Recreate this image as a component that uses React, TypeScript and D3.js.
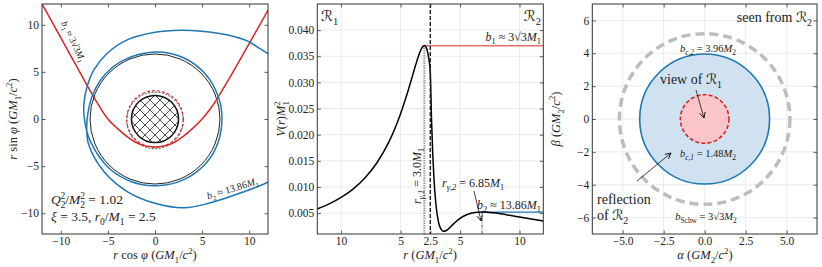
import React, { useEffect, useRef } from "react";
import * as d3 from "d3";

const width = 822;
const height = 267;
const serif = "'Liberation Serif', 'DejaVu Serif', serif";
const scriptFont = "'DejaVu Sans', 'DejaVu Serif', serif";
const ink = "#222";
const blue = "#1f77b4";
const red = "#d62728";

// --- left panel: ray paths in the equatorial plane ---
const orbitTicks = [-10, -5, 0, 5, 10];
const throatR = 2.5;
const photonR1 = 3.0;
const photonR2 = 6.9;
// b1 ray, [x, y]
const redRay: [number, number][] = [
  [-13, 13.9], [-12, 12.2], [-10, 8.6], [-8, 5.0], [-7, 3.2], [-6, 1.5], [-5, 0.0],
  [-4, -1.0], [-3, -1.85], [-2, -2.5], [-1, -2.85], [0, -2.97], [1, -2.85], [2, -2.5],
  [3, -1.85], [4, -1.0], [5, 0.0], [6, 1.25], [7, 2.8], [8, 4.5], [10, 8.0], [12.2, 11.9], [13, 13.3],
];
// b2 ray, [phi in degrees, r]
const blueRay: [number, number][] = [
  [26, 14.6], [29, 14.0], [34, 13.4], [40, 12.85], [49, 11.8], [62, 10.55], [74, 9.8], [90, 9.2],
  [109, 8.9], [126, 8.62], [141, 8.33], [155, 7.98], [168, 7.72], [177, 7.55], [188, 7.38],
  [200, 7.25], [226, 7.15], [249, 7.1], [271, 7.08], [295, 7.12], [320, 7.16], [341, 7.14],
  [364, 7.12], [380, 7.13], [401, 7.17], [425, 7.17], [450, 7.1], [478, 7.08], [498, 7.1],
  [518, 7.1], [535, 7.15], [548, 7.32], [561, 7.55], [586, 7.78], [609, 8.24], [630, 8.94],
  [648, 9.9], [662, 10.58], [680, 12.1], [692, 13.93], [697, 14.6],
];

// --- middle panel: effective potential ---
const r0 = 2.5;
const rRegion1 = [12, 11, 10, 9, 8, 7, 6, 5.5, 5, 4.5, 4, 3.75, 3.5, 3.25, 3, 2.85, 2.7, 2.6, 2.5];
const vRegion1 = [
  0.00579, 0.00676, 0.008, 0.0096, 0.01172, 0.01458, 0.01852, 0.02104, 0.024, 0.02744,
  0.03125, 0.03319, 0.03499, 0.03641, 0.03704, 0.03672, 0.03556, 0.03414, 0.032,
];
const rRegion2 = [
  2.5, 2.6, 2.7, 2.8, 2.9, 3.0, 3.2, 3.4, 3.6, 3.8, 4.0, 4.5, 5, 5.5, 6, 6.5, 6.85, 7, 7.5, 8, 9, 10, 11, 12,
];
const vRegion2 = [
  0.03187, 0.02309, 0.01665, 0.01196, 0.00855, 0.00611, 0.00319, 0.00191, 0.00152, 0.00161,
  0.00193, 0.00303, 0.00399, 0.00464, 0.00501, 0.00518, 0.00521, 0.0052, 0.00513, 0.005,
  0.00465, 0.00425, 0.00386, 0.0035,
];
const potTicksX = [
  { r: 10, side: -1 }, { r: 5, side: -1 }, { r: 2.5, side: 0 }, { r: 5, side: 1 }, { r: 10, side: 1 },
];
const potTicksY = [0.005, 0.01, 0.015, 0.02, 0.025, 0.03, 0.035, 0.04];
const rGamma1 = 3.0;
const rGamma2 = 6.85;
const vPeak1 = 0.037;
const vPeak2 = 0.0052;

// --- right panel: shadow seen from region 2 ---
const shadowTicksX = [-5, -2.5, 0, 2.5, 5];
const shadowTicksY = [-6, -4, -2, 0, 2, 4, 6];
const bc2 = 3.96;
const bc1 = 1.48;
const bSchw = 5.196;

type Part = [string, string?];

function mathText(g: any, x: number, y: number, parts: Part[], size: number, anchor = "start", rotate = 0) {
  const t = g
    .append("text")
    .attr("transform", `translate(${x},${y}) rotate(${rotate})`)
    .attr("font-size", size)
    .attr("font-family", serif)
    .attr("text-anchor", anchor)
    .attr("fill", ink);
  let cur = 0;
  for (const [s, st = ""] of parts) {
    const tags = st.split(" ");
    const sub = tags.includes("sub");
    const sup = tags.includes("sup");
    const target = sub ? size * 0.28 : sup ? -size * 0.4 : 0;
    const ts = t.append("tspan").attr("dy", target - cur).text(s);
    if (tags.includes("i")) ts.attr("font-style", "italic");
    if (sub || sup) ts.attr("font-size", size * 0.7);
    if (tags.includes("back")) ts.attr("dx", -size * 0.36);
    if (tags.includes("R")) ts.attr("font-family", scriptFont);
    cur = target;
  }
  return t;
}

function frame(svg: any, x: any, y: any, xt: number[], yt: number[], fmtX: any, fmtY: any, grid: boolean) {
  const [x0, x1] = x.range();
  const [y0, y1] = y.range();
  const g = svg.append("g");
  if (grid) {
    g.selectAll(".gx").data(xt).join("line")
      .attr("x1", (d: number) => x(d)).attr("x2", (d: number) => x(d))
      .attr("y1", y0).attr("y2", y1).attr("stroke", "#e6e6e6").attr("stroke-width", 0.8);
    g.selectAll(".gy").data(yt).join("line")
      .attr("y1", (d: number) => y(d)).attr("y2", (d: number) => y(d))
      .attr("x1", x0).attr("x2", x1).attr("stroke", "#e6e6e6").attr("stroke-width", 0.8);
  }
  const style = (a: any) => {
    a.select(".domain").remove();
    a.selectAll(".tick line").attr("stroke", "#333").attr("stroke-width", 0.8);
    a.selectAll("text").attr("font-family", serif).attr("font-size", 11.5).attr("fill", ink);
  };
  svg.append("g").attr("transform", `translate(0,${y0})`)
    .call(d3.axisBottom(x).tickValues(xt).tickSize(-3.5).tickPadding(3).tickFormat(fmtX)).call(style);
  svg.append("g").attr("transform", `translate(0,${y1})`)
    .call(d3.axisTop(x).tickValues(xt).tickSize(-3.5).tickFormat(() => "")).call(style);
  svg.append("g").attr("transform", `translate(${x0},0)`)
    .call(d3.axisLeft(y).tickValues(yt).tickSize(-3.5).tickPadding(3).tickFormat(fmtY)).call(style);
  svg.append("g").attr("transform", `translate(${x1},0)`)
    .call(d3.axisRight(y).tickValues(yt).tickSize(-3.5).tickFormat(() => "")).call(style);
}

function border(svg: any, x: any, y: any) {
  const [x0, x1] = x.range();
  const [y0, y1] = y.range();
  svg.append("rect").attr("x", x0).attr("y", y1).attr("width", x1 - x0).attr("height", y0 - y1)
    .attr("fill", "none").attr("stroke", "#333").attr("stroke-width", 1);
}

function arrow(svg: any, x1: number, y1: number, x2: number, y2: number) {
  svg.append("line").attr("x1", x1).attr("y1", y1).attr("x2", x2).attr("y2", y2)
    .attr("stroke", "#111").attr("stroke-width", 0.8).attr("marker-end", "url(#head)");
}

export default function App() {
  const ref = useRef<SVGSVGElement>(null);

  useEffect(() => {
    const svg = d3.select(ref.current);
    svg.selectAll("*").remove();

    const defs = svg.append("defs");
    defs.append("marker").attr("id", "head").attr("viewBox", "0 0 10 10").attr("refX", 9).attr("refY", 5)
      .attr("markerWidth", 7).attr("markerHeight", 7).attr("markerUnits", "userSpaceOnUse").attr("orient", "auto")
      .append("path").attr("d", "M1,1L9,5L1,9").attr("fill", "none").attr("stroke", "#111").attr("stroke-width", 1.3);
    const hatch = defs.append("pattern").attr("id", "hatch").attr("patternUnits", "userSpaceOnUse")
      .attr("width", 10).attr("height", 10);
    hatch.append("rect").attr("width", 10).attr("height", 10).attr("fill", "white");
    hatch.append("path").attr("d", "M0,0L10,10M10,0L0,10").attr("stroke", "#222").attr("stroke-width", 0.8);

    // ---------- left panel ----------
    const xL = d3.scaleLinear().domain([-12, 12]).range([42, 268]);
    const yL = d3.scaleLinear().domain([-12.2, 12.2]).range([234, 4]);
    defs.append("clipPath").attr("id", "clipL").append("rect")
      .attr("x", 42).attr("y", 4).attr("width", 226).attr("height", 230);
    frame(svg, xL, yL, orbitTicks, orbitTicks, d3.format("d"), d3.format("d"), false);
    const gL = svg.append("g").attr("clip-path", "url(#clipL)");
    const ell = (g: any, cx: number, cy: number, r: number) =>
      g.append("ellipse").attr("cx", xL(cx)).attr("cy", yL(cy))
        .attr("rx", xL(r) - xL(0)).attr("ry", yL(0) - yL(r));
    ell(gL, 0, 0, photonR2).attr("fill", "none").attr("stroke", "#222").attr("stroke-width", 1);
    ell(gL, 0, -0.15, photonR1).attr("fill", "none").attr("stroke", "#333").attr("stroke-width", 0.9)
      .attr("stroke-dasharray", "2,1.5");
    ell(gL, 0, 0, throatR).attr("fill", "url(#hatch)").attr("stroke", "#111").attr("stroke-width", 1.5);
    ell(gL, 0, 0, photonR1).attr("fill", "none").attr("stroke", red).attr("stroke-width", 1.1)
      .attr("stroke-dasharray", "3,2");
    const lineXY = d3.line<[number, number]>().x(d => xL(d[0])).y(d => yL(d[1])).curve(d3.curveCatmullRom);
    gL.append("path").datum(redRay).attr("d", lineXY).attr("fill", "none").attr("stroke", red).attr("stroke-width", 1.5);
    const bluePts: [number, number][] = blueRay.map(([p, r]) => [
      r * Math.cos((p * Math.PI) / 180), r * Math.sin((p * Math.PI) / 180),
    ]);
    gL.append("path").datum(bluePts).attr("d", lineXY).attr("fill", "none").attr("stroke", blue).attr("stroke-width", 1.5);
    mathText(gL, 61, 23, [["b", "i"], ["1", "sub"], [" ≈ 3√3"], ["M", "i"], ["1", "sub"]], 9.5, "start", 64);
    mathText(gL, 208, 199.5, [["b", "i"], ["2", "sub"], [" ≈ 13.86"], ["M", "i"], ["1", "sub"]], 10, "start", -17);
    border(svg, xL, yL);
    mathText(svg, 51, 204, [["Q", "i"], ["2", "sub"], ["2", "sup back"], ["/"], ["M", "i"], ["2", "sub"], ["2", "sup back"], [" = 1.02"]], 13.5);
    mathText(svg, 51, 221, [["ξ", "i"], [" = 3.5,  "], ["r", "i"], ["0", "sub"], ["/"], ["M", "i"], ["1", "sub"], [" = 2.5"]], 13.5);
    mathText(svg, 155, 259, [["r", "i"], [" cos "], ["φ", "i"], [" ("], ["GM", "i"], ["1", "sub"], ["/"], ["c", "i"], ["2", "sup"], [")"]], 12.5, "middle");
    mathText(svg, 17, 119, [["r", "i"], [" sin "], ["φ", "i"], [" ("], ["GM", "i"], ["1", "sub"], ["/"], ["c", "i"], ["2", "sup"], [")"]], 12.5, "middle", -90);

    // ---------- middle panel ----------
    const xM = d3.scaleLinear().domain([-9.5, 9.5]).range([317.3, 543.3]);
    const yM = d3.scaleLinear().domain([0.001, 0.045]).range([234, 4]);
    const uOf = (r: number, side: number) => side * (r - r0);
    defs.append("clipPath").attr("id", "clipM").append("rect")
      .attr("x", 317.3).attr("y", 4).attr("width", 226).attr("height", 230);
    const tickU = potTicksX.map(t => uOf(t.r, t.side));
    frame(svg, xM, yM, tickU, potTicksY, (d: number) => {
      const t = potTicksX[tickU.indexOf(d)];
      return t ? String(t.r) : "";
    }, d3.format(".3f"), true);
    const gM = svg.append("g").attr("clip-path", "url(#clipM)");
    const pot: [number, number][] = [
      ...rRegion1.map((r, i) => [uOf(r, -1), vRegion1[i]] as [number, number]),
      ...rRegion2.slice(1).map((r, i) => [uOf(r, 1), vRegion2[i + 1]] as [number, number]),
    ];
    gM.append("line").attr("x1", xM(uOf(rGamma1, -1))).attr("x2", xM(uOf(rGamma1, -1)))
      .attr("y1", yM(0.001)).attr("y2", yM(vPeak1)).attr("stroke", "#999").attr("stroke-width", 2)
      .attr("stroke-dasharray", "1.5,1");
    gM.append("line").attr("x1", xM(uOf(rGamma2, 1))).attr("x2", xM(uOf(rGamma2, 1)))
      .attr("y1", yM(0.001)).attr("y2", yM(vPeak2)).attr("stroke", "#222").attr("stroke-width", 0.8)
      .attr("stroke-dasharray", "3,1.2,1,1.2");
    gM.append("line").attr("x1", xM(uOf(rGamma1, -1))).attr("x2", xM(9.5))
      .attr("y1", yM(vPeak1)).attr("y2", yM(vPeak1)).attr("stroke", red).attr("stroke-width", 1);
    gM.append("line").attr("x1", xM(uOf(rGamma2, 1))).attr("x2", xM(9.5))
      .attr("y1", yM(vPeak2)).attr("y2", yM(vPeak2)).attr("stroke", blue).attr("stroke-width", 1.2);
    gM.append("path").datum(pot)
      .attr("d", d3.line<[number, number]>().x(d => xM(d[0])).y(d => yM(d[1])).curve(d3.curveMonotoneX))
      .attr("fill", "none").attr("stroke", "#000").attr("stroke-width", 1.5);
    gM.append("line").attr("x1", xM(0)).attr("x2", xM(0)).attr("y1", 4).attr("y2", 234)
      .attr("stroke", "#222").attr("stroke-width", 1.4).attr("stroke-dasharray", "4,2");
    border(svg, xM, yM);
    mathText(svg, 321, 21, [["ℛ", "R"], ["1", "sub"]], 15);
    mathText(svg, 541, 21, [["ℛ", "R"], ["2", "sub"]], 15, "end");
    mathText(svg, 541, 41, [["b", "i"], ["1", "sub"], [" ≈ 3√3"], ["M", "i"], ["1", "sub"]], 12, "end");
    mathText(svg, 541, 209, [["b", "i"], ["2", "sub"], [" ≈ 13.86"], ["M", "i"], ["1", "sub"]], 12, "end");
    mathText(svg, 442, 187, [["r", "i"], ["γ,2", "i sub"], [" = 6.85"], ["M", "i"], ["1", "sub"]], 12);
    mathText(svg, 421, 176, [["r", "i"], ["γ,1", "i sub"], [" = 3.0"], ["M", "i"], ["1", "sub"]], 12, "middle", -90);
    arrow(svg, 474, 191, 481, 221);
    mathText(svg, 430, 259, [["r", "i"], [" ("], ["GM", "i"], ["1", "sub"], ["/"], ["c", "i"], ["2", "sup"], [")"]], 12.5, "middle");
    mathText(svg, 285, 119, [["V", "i"], ["("], ["r", "i"], [")"], ["M", "i"], ["1", "sub"], ["2", "sup back"]], 12.5, "middle", -90);

    // ---------- right panel ----------
    const xR = d3.scaleLinear().domain([-6.85, 6.85]).range([592.3, 817]);
    const yR = d3.scaleLinear().domain([-7, 7]).range([234, 4]);
    frame(svg, xR, yR, shadowTicksX, shadowTicksY, d3.format(".1f"), d3.format("d"), true);
    const ellR = (r: number) =>
      svg.append("ellipse").attr("cx", xR(0)).attr("cy", yR(0))
        .attr("rx", xR(r) - xR(0)).attr("ry", yR(0) - yR(r));
    ellR(bSchw).attr("fill", "none").attr("stroke", "#bdbdbd").attr("stroke-width", 3.5).attr("stroke-dasharray", "9,5");
    ellR(bc2).attr("fill", "#d0e2f0").attr("stroke", blue).attr("stroke-width", 1.6);
    ellR(bc1).attr("fill", "#fcc6c8").attr("stroke", red).attr("stroke-width", 1.6).attr("stroke-dasharray", "4,2.2");
    border(svg, xR, yR);
    mathText(svg, 812, 22, [["seen from "], ["ℛ", "R"], ["2", "sub"]], 14, "end");
    mathText(svg, 708, 52, [["b", "i"], ["c,2", "i sub"], [" = 3.96"], ["M", "i"], ["2", "sub"]], 10.5, "middle");
    mathText(svg, 660, 84, [["view of "], ["ℛ", "R"], ["1", "sub"]], 14);
    arrow(svg, 696, 90, 704, 118);
    mathText(svg, 708, 157, [["b", "i"], ["c,1", "i sub"], [" = 1.48"], ["M", "i"], ["2", "sub"]], 10.5, "middle");
    mathText(svg, 597, 204, [["reflection"]], 14);
    mathText(svg, 597, 220, [["of "], ["ℛ", "R"], ["2", "sub"]], 14);
    arrow(svg, 637, 181, 671, 153);
    mathText(svg, 706, 220, [["b", "i"], ["Schw", "sub"], [" = 3√3"], ["M", "i"], ["2", "sub"]], 10.5, "middle");
    mathText(svg, 705, 259, [["α", "i"], [" ("], ["GM", "i"], ["2", "sub"], ["/"], ["c", "i"], ["2", "sup"], [")"]], 12.5, "middle");
    mathText(svg, 560, 119, [["β", "i"], [" ("], ["GM", "i"], ["2", "sub"], ["/"], ["c", "i"], ["2", "sup"], [")"]], 12.5, "middle", -90);
  }, []);

  return (
    <svg
      ref={ref}
      width={width}
      height={height}
      viewBox={`0 0 ${width} ${height}`}
      style={{ position: "absolute", left: 0, top: 0, background: "white" }}
    ></svg>
  );
}
